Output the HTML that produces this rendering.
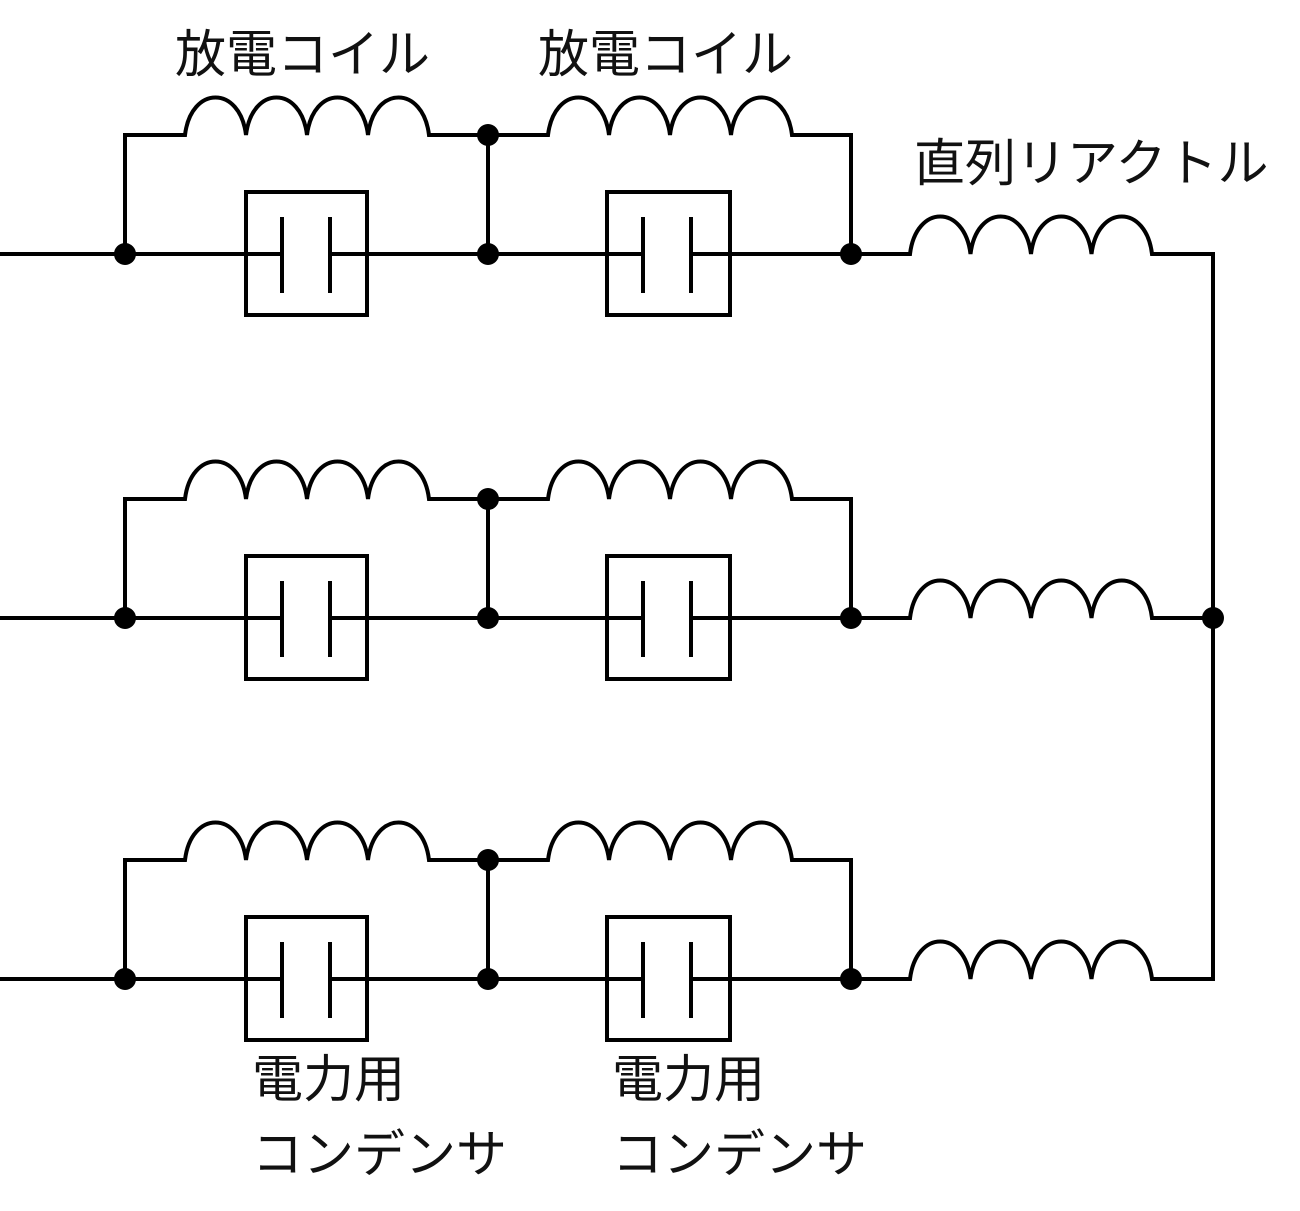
<!DOCTYPE html>
<html><head><meta charset="utf-8"><style>
html,body{margin:0;padding:0;background:#fff;}
svg{display:block}
text{font-family:"Liberation Sans","Noto Sans CJK JP",sans-serif;font-size:51px;fill:#111;}
</style></head><body>
<svg width="1300" height="1211" viewBox="0 0 1300 1211" xmlns="http://www.w3.org/2000/svg">
<defs>
<g id="sec" fill="none" stroke="#000" stroke-width="4">
  <path d="M0 0 H246 M367 0 H488"/>
  <path d="M125 0 V-119 H185 c6 -50 55 -50 61 0 c6 -50 55 -50 61 0 c6 -50 55 -50 61 0 c6 -50 55 -50 61 0 H488 V0"/>
  <rect x="246" y="-62" width="121" height="123"/>
  <path d="M246 0 H282 M282 -37 V39 M330 -37 V39 M330 0 H367"/>
  <path d="M488 0 H607 M730 0 H851"/>
  <path d="M488 -119 H548 c6 -50 55 -50 61 0 c6 -50 55 -50 61 0 c6 -50 55 -50 61 0 c6 -50 55 -50 61 0 H851 V0"/>
  <rect x="607" y="-62" width="123" height="123"/>
  <path d="M607 0 H643 M643 -37 V39 M691 -37 V39 M691 0 H730"/>
  <path d="M851 0 H910 c6 -50 54.5 -50 60.5 0 c6 -50 54.5 -50 60.5 0 c6 -50 54.5 -50 60.5 0 c6 -50 54.5 -50 60.5 0 H1213"/>
  <g fill="#000" stroke="none">
    <circle cx="125" cy="0" r="11"/>
    <circle cx="488" cy="0" r="11"/>
    <circle cx="488" cy="-119" r="11"/>
    <circle cx="851" cy="0" r="11"/>
  </g>
</g>
</defs>
<use href="#sec" transform="translate(0,254)"/>
<use href="#sec" transform="translate(0,618)"/>
<use href="#sec" transform="translate(0,979)"/>
<path d="M1213 252 V981" stroke="#000" stroke-width="4" fill="none"/>
<circle cx="1213" cy="618" r="11" fill="#000"/>
<text x="175" y="72">放電コイル</text>
<text x="538" y="72">放電コイル</text>
<text x="914" y="181">直列リアクトル</text>
<text x="252" y="1097">電力用</text>
<text x="252" y="1172">コンデンサ</text>
<text x="612" y="1097">電力用</text>
<text x="612" y="1172">コンデンサ</text>
</svg>
</body></html>
